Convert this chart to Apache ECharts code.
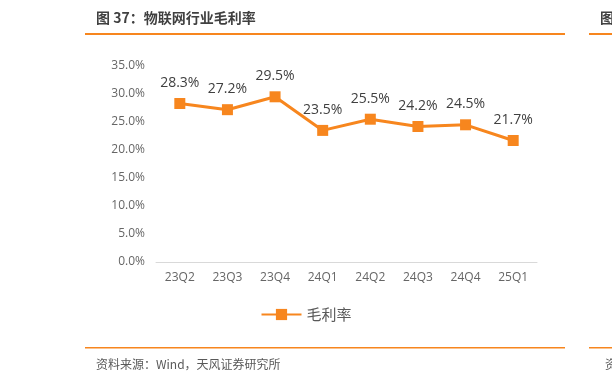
<!DOCTYPE html>
<html><head><meta charset="utf-8">
<script src="https://cdn.jsdelivr.net/npm/echarts@6/dist/echarts.min.js"></script>
<style>html,body{margin:0;padding:0;background:#fff}#c{width:612px;height:384px}</style>
</head><body><div id="c"></div>
<script>
const categories = ['23Q2','23Q3','23Q4','24Q1','24Q2','24Q3','24Q4','25Q1'];
const grossMargin = [28.3, 27.2, 29.5, 23.5, 25.5, 24.2, 24.5, 21.7];
const seriesName = '毛利率';
const titleText = '图 37：物联网行业毛利率';
const sourceText = '资料来源：Wind，天风证券研究所';

const orange = '#F7861E';
const font = '"Open Sans","Noto Sans CJK SC",sans-serif';
const cjk = '"Noto Sans CJK SC",sans-serif';
const chart = echarts.init(document.getElementById('c'));
chart.setOption({
  animation: false,
  grid: {left: 156, right: 75, top: 66, bottom: 122},
  xAxis: {
    type: 'category', data: categories,
    axisLine: {lineStyle: {color: '#d9d9d9', width: 1}},
    axisTick: {show: false},
    axisLabel: {color: '#666666', fontSize: 12, fontFamily: font, margin: 10}
  },
  yAxis: {
    type: 'value', min: 0, max: 35, interval: 5,
    axisLine: {show: false}, axisTick: {show: false},
    splitLine: {show: false},
    axisLabel: {color: '#666666', fontSize: 12, fontFamily: font, margin: 11,
      formatter: v => v.toFixed(1) + '%'}
  },
  legend: {
    bottom: 57, left: 'center', itemWidth: 40, itemHeight: 14,
    textStyle: {color: '#595959', fontSize: 15, fontFamily: cjk},
    data: [{name: seriesName}]
  },
  series: [{
    name: seriesName, type: 'line', data: grossMargin,
    symbol: 'rect', symbolSize: 11,
    lineStyle: {color: orange, width: 3},
    itemStyle: {color: orange},
    label: {show: true, position: 'top', distance: 8, color: '#404040', fontSize: 14, fontFamily: font,
      formatter: p => p.value.toFixed(1) + '%'}
  }],
  graphic: [
    {type: 'text', left: 96, top: 11, style: {text: titleText, fill: '#404040', font: '600 14px ' + cjk}},
    {type: 'rect', shape: {x: 85, y: 33, width: 480, height: 2}, style: {fill: orange}},
    {type: 'rect', shape: {x: 589, y: 33, width: 30, height: 2}, style: {fill: orange}},
    {type: 'text', left: 600, top: 11, style: {text: '图', fill: '#404040', font: '600 14px ' + cjk}},
    {type: 'rect', shape: {x: 85, y: 347, width: 480, height: 1.5}, style: {fill: orange}},
    {type: 'rect', shape: {x: 589, y: 347, width: 30, height: 1.5}, style: {fill: orange}},
    {type: 'text', left: 96, top: 358, style: {text: sourceText, fill: '#595959', font: '12px ' + cjk}},
    {type: 'text', left: 605, top: 358, style: {text: '资', fill: '#595959', font: '12px ' + cjk}}
  ]
});
</script></body></html>
